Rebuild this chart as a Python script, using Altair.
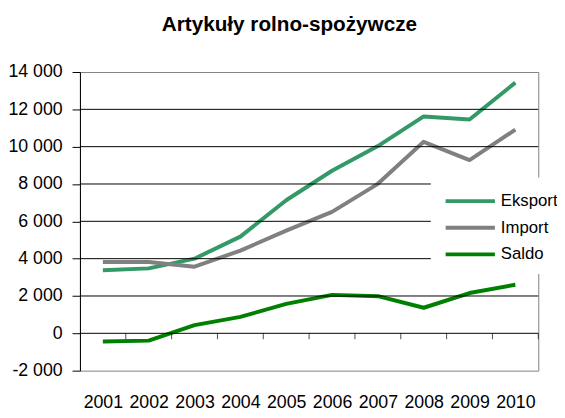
import altair as alt
import pandas as pd

years = [2001, 2002, 2003, 2004, 2005, 2006, 2007, 2008, 2009, 2010]
eksport = [3380, 3480, 4000, 5180, 7130, 8710, 10030, 11620, 11460, 13430]
import_ = [3820, 3820, 3570, 4430, 5500, 6510, 8010, 10260, 9280, 10910]
saldo = [-440, -390, 440, 880, 1580, 2060, 1990, 1370, 2160, 2600]
series = ["Eksport", "Import", "Saldo"]
colors = ["#339966", "#808080", "#008000"]
y_ticks = [-2000, 0, 2000, 4000, 6000, 8000, 10000, 12000, 14000]
grid_vals = [0, 2000, 4000, 6000, 8000, 10000, 12000]

rows = []
for name, vals in zip(series, [eksport, import_, saldo]):
    for yr, v in zip(years, vals):
        rows.append({"year": yr, "series": name, "value": v})
df = pd.DataFrame(rows)
bounds = pd.DataFrame({"b": [y + 0.5 for y in years], "z": [0] * len(years)})
gridf = pd.DataFrame({"g": grid_vals})

FONT = "Liberation Sans"
xscale = alt.Scale(domain=[2000.5, 2010.5], nice=False, zero=False)
yscale = alt.Scale(domain=[-2000, 14000], nice=False)

lines = alt.Chart(df).mark_line(strokeWidth=4, strokeJoin="round").encode(
    x=alt.X("year:Q", scale=xscale,
            axis=alt.Axis(values=years, tickCount=20, format="d", tickSize=0, domain=False,
                          grid=False, labelFontSize=18, labelPadding=23, labelColor="black",
                          labelFont=FONT, labelOverlap=False, title=None)),
    y=alt.Y("value:Q", scale=yscale,
            axis=alt.Axis(values=y_ticks, tickCount=20, grid=False, domainColor="black",
                          tickColor="black", tickSize=8, labelFontSize=18, labelColor="black",
                          labelFont=FONT, labelPadding=10, labelOverlap=False,
                          labelExpr="(datum.value < 0 ? '-' : '') + replace(format(abs(datum.value), ','), ',', ' ')",
                          title=None)),
    color=alt.Color("series:N", scale=alt.Scale(domain=series, range=colors),
                    legend=alt.Legend(title=None, orient="none", legendX=356, legendY=107,
                                      fillColor="white", padding=12,
                                      symbolType="M-2.5,0H2.5", symbolSize=400,
                                      symbolStrokeWidth=4, symbolOffset=16,
                                      labelFontSize=17, labelFont=FONT, labelColor="black",
                                      labelOffset=19, rowPadding=7)),
    order=alt.Order("series:N"),
)

grid = alt.Chart(gridf).mark_rule(color="black", strokeWidth=1).encode(
    y=alt.Y("g:Q", scale=yscale),
)

ticks = alt.Chart(bounds).mark_tick(color="black", thickness=1, size=6, yOffset=3,
                                    orient="vertical").encode(
    x=alt.X("b:Q", scale=xscale),
    y=alt.Y("z:Q", scale=yscale),
)

chart = alt.layer(lines, grid, ticks).properties(
    width=465, height=303,
    title=alt.TitleParams("Artykuły rolno-spożywcze", fontSize=21, fontWeight="bold",
                          font=FONT, color="black", anchor="middle", frame="group",
                          dx=-20, offset=29),
    autosize=alt.AutoSizeParams(type="none"),
    padding={"left": 73, "top": 62, "right": 19, "bottom": 38},
).configure_view(stroke="#808080", strokeWidth=1)

chart.save("out.html", embed_options={"renderer": "svg", "actions": False})
